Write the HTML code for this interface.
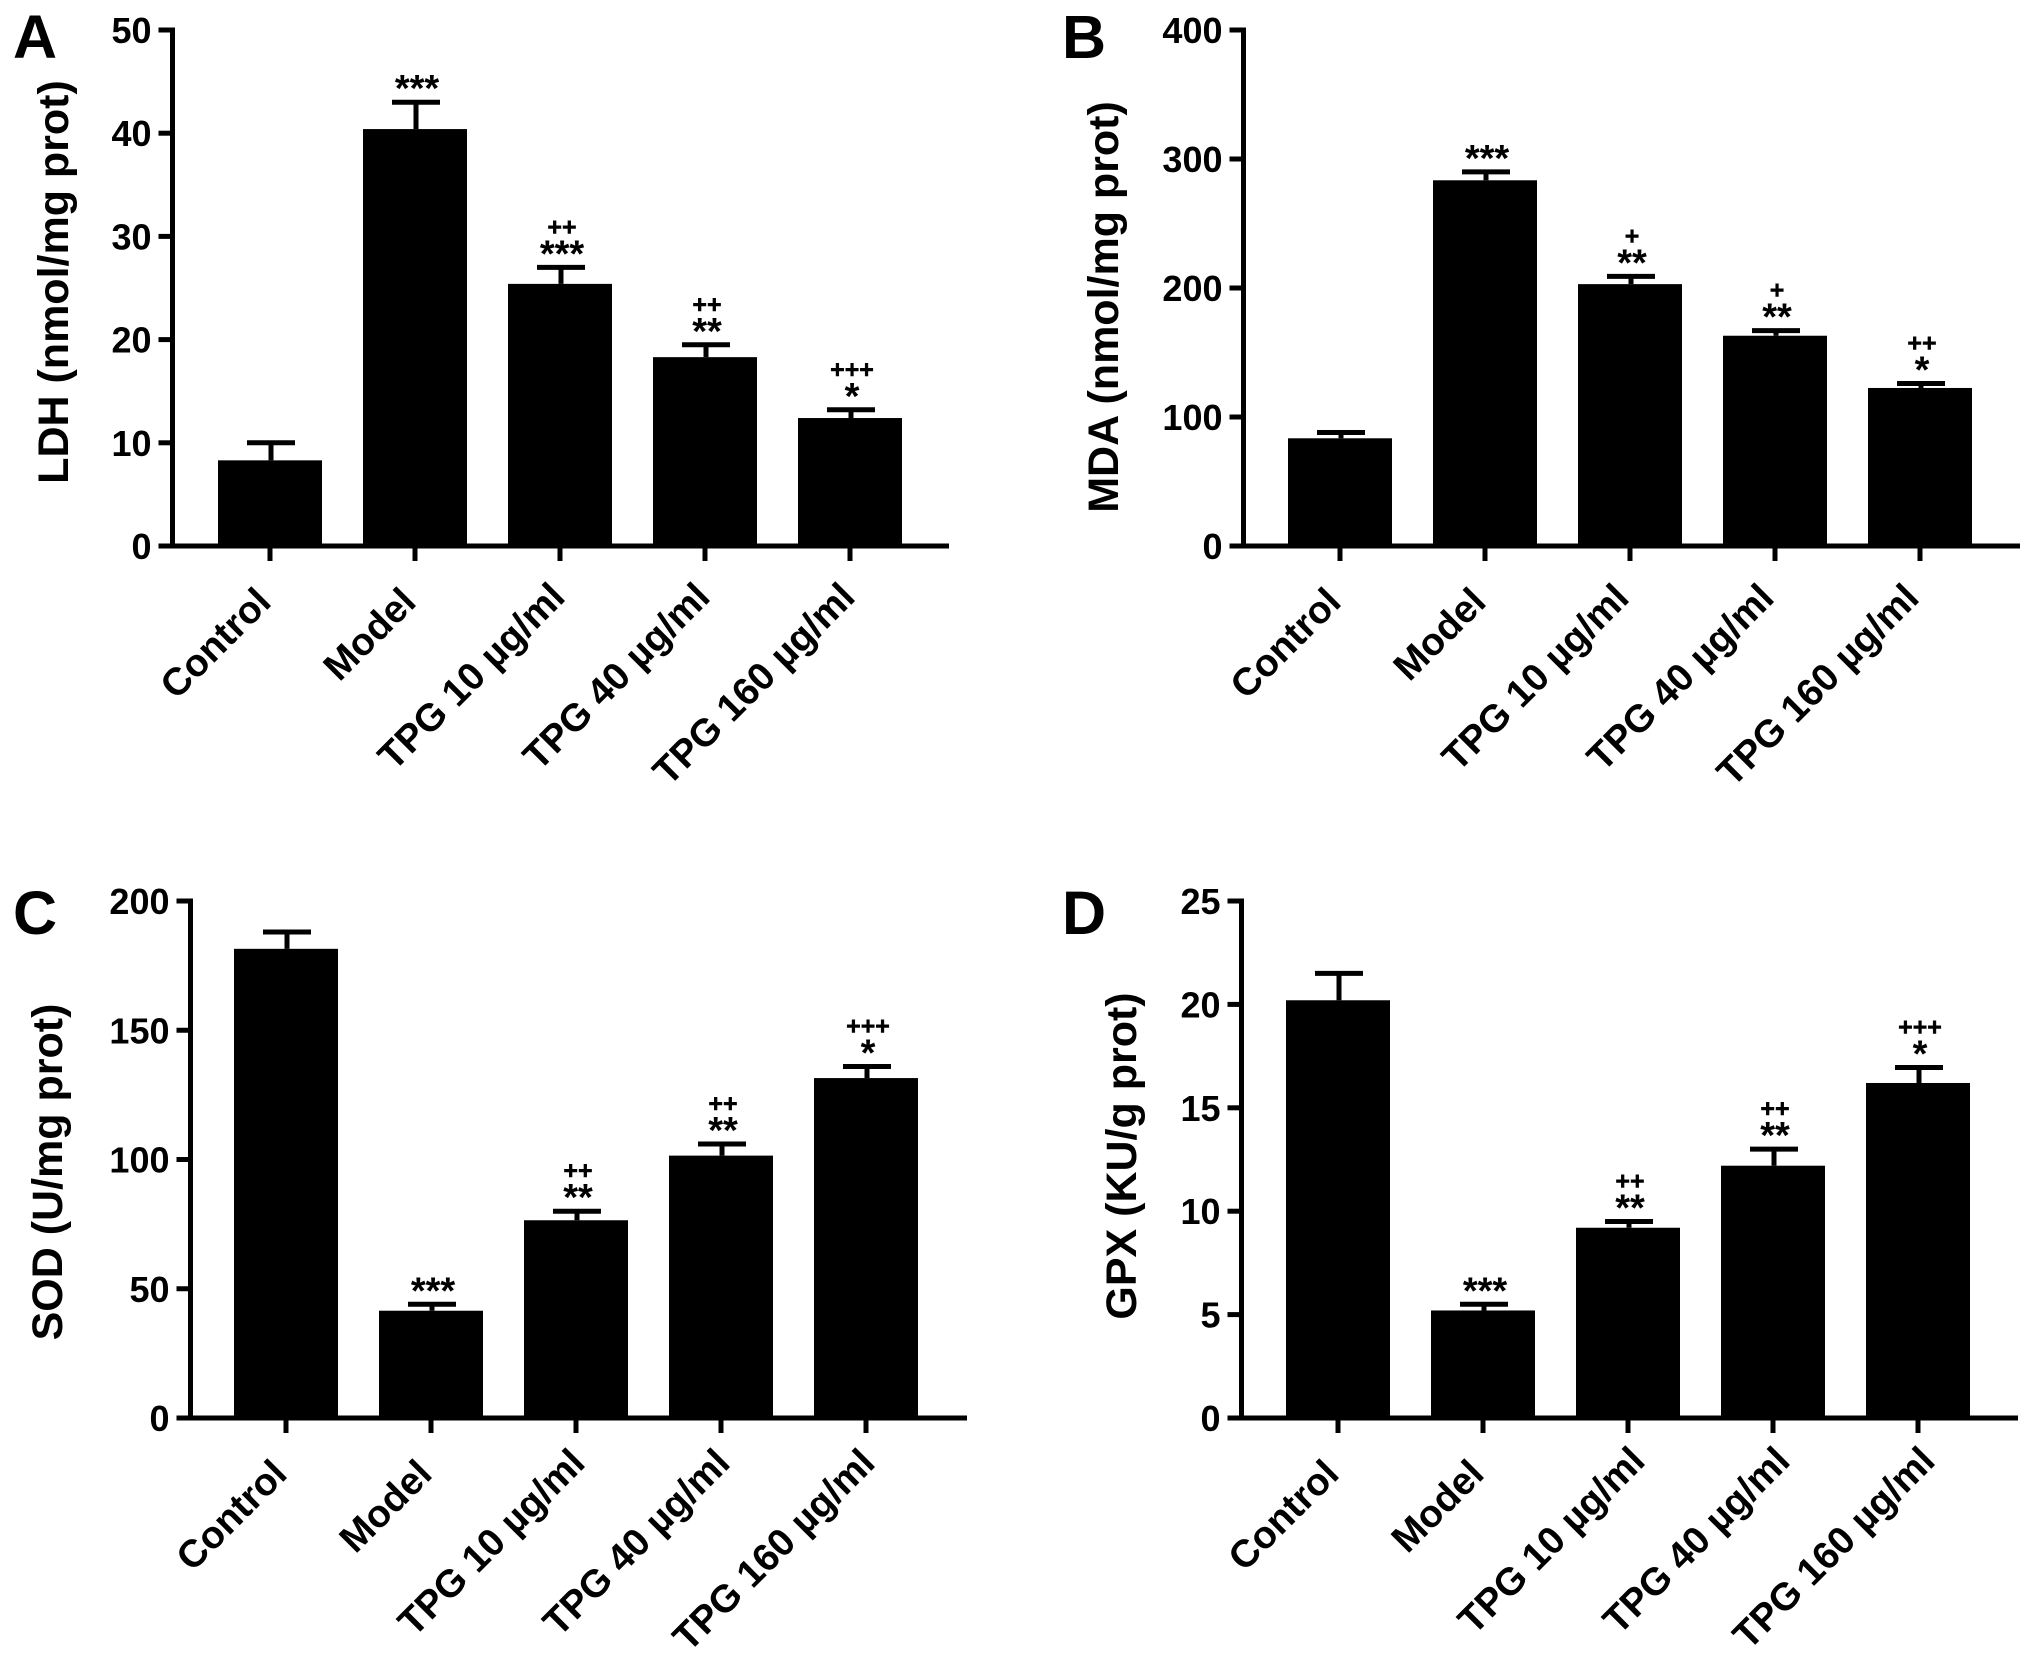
<!DOCTYPE html>
<html>
<head>
<meta charset="utf-8">
<title>TPG biochemical markers</title>
<style>
html,body{margin:0;padding:0;background:#fff;}
svg{display:block;}
text{font-family:"Liberation Sans",Arial,sans-serif;font-weight:bold;fill:#000;}
</style>
</head>
<body>
<svg id="figure" xmlns="http://www.w3.org/2000/svg" width="2031" height="1664" viewBox="0 0 2031 1664"></svg>
<script>
var categories = ['Control', 'Model', 'TPG 10 µg/ml', 'TPG 40 µg/ml', 'TPG 160 µg/ml'];

var ldhMeans = [8.3, 40.4, 25.4, 18.3, 12.4];
var ldhErrors = [1.7, 2.6, 1.6, 1.2, 0.8];
var ldhTicks = [0, 10, 20, 30, 40, 50];
var ldhStars = ['', '***', '***', '**', '*'];
var ldhPlus = ['', '', '++', '++', '+++'];

var mdaMeans = [83.5, 283.5, 203, 163, 122.5];
var mdaErrors = [4.5, 6.5, 6, 4, 3.5];
var mdaTicks = [0, 100, 200, 300, 400];
var mdaStars = ['', '***', '**', '**', '*'];
var mdaPlus = ['', '', '+', '+', '++'];

var sodMeans = [181.5, 41.5, 76.5, 101.5, 131.5];
var sodErrors = [6.5, 2.5, 3.5, 4.5, 4.5];
var sodTicks = [0, 50, 100, 150, 200];
var sodStars = ['', '***', '**', '**', '*'];
var sodPlus = ['', '', '++', '++', '+++'];

var gpxMeans = [20.2, 5.2, 9.2, 12.2, 16.2];
var gpxErrors = [1.3, 0.3, 0.3, 0.8, 0.75];
var gpxTicks = [0, 5, 10, 15, 20, 25];
var gpxStars = ['', '***', '**', '**', '*'];
var gpxPlus = ['', '', '++', '++', '+++'];

var svg = document.getElementById('figure');
var NS = 'http://www.w3.org/2000/svg';

function mk(tag, attrs, parent, content) {
  var el = document.createElementNS(NS, tag);
  for (var k in attrs) { el.setAttribute(k, attrs[k]); }
  if (content !== undefined) { el.textContent = content; }
  parent.appendChild(el);
  return el;
}

function drawPanel(p) {
  var group = mk('g', {}, svg);
  
  

  var yMax = p.ticks[p.ticks.length - 1];
  function yScale(v) { return p.base - (v / yMax) * (p.base - p.top); }
  function xScale(i) { return p.first + i * p.step; }

  var letter = mk('text', {x: p.letterX, y: p.letterY, 'font-size': 61}, group, p.letter);
  
  

  var title = mk('text', {
    transform: 'translate(' + p.titleX + ',' + p.titleY + ') rotate(-90)',
    'text-anchor': 'middle', 'font-size': 43
  }, group, p.title);
  
  

  p.means.forEach(function (m, i) {
    var cx = xScale(i);
    var topV = m + p.errors[i];
    var bar = mk('rect', {
      x: cx - 52, y: yScale(m), width: 104, height: p.base - yScale(m), fill: '#000'
    }, group);
    
    

    var stem = mk('line', {
      x1: cx + 1, x2: cx + 1, y1: yScale(m), y2: yScale(topV), stroke: '#000', 'stroke-width': 5
    }, group);
    
    

    var cap = mk('line', {
      x1: cx - 23, x2: cx + 25, y1: yScale(topV), y2: yScale(topV), stroke: '#000', 'stroke-width': 5
    }, group);
    
    

    if (p.stars[i]) {
      var star = mk('text', {
        x: cx + 2, y: yScale(topV) - 1, 'text-anchor': 'middle', 'font-size': 38, fill: '#222'
      }, group, p.stars[i]);
      
      
    }
    if (p.plus[i]) {
      var plus = mk('text', {
        x: cx + 2, y: yScale(topV) - 32, 'text-anchor': 'middle', 'font-size': 25,
        'font-weight': 'normal', stroke: '#000', 'stroke-width': 0.5
      }, group, p.plus[i]);
      
      
    }

    var tick = mk('line', {
      x1: cx, x2: cx, y1: p.base, y2: p.base + 15, stroke: '#000', 'stroke-width': 5
    }, group);
    
    

    var isDose = categories[i].indexOf('TPG') === 0;
    var lx = cx + (isDose ? p.doseDx : 3);
    var ly = p.base + (isDose ? p.doseDy : 58);
    var lbl = mk('text', {
      transform: 'translate(' + lx + ',' + ly + ') rotate(-45)',
      'text-anchor': 'end', 'font-size': 38.5
    }, group, categories[i]);
    
    
  });

  var yAxis = mk('line', {
    x1: p.axisX, x2: p.axisX, y1: p.top - 2.5, y2: p.base + 2.5, stroke: '#000', 'stroke-width': 5
  }, group);
  
  

  var xAxis = mk('line', {
    x1: p.axisX - 14, x2: p.xEnd, y1: p.base, y2: p.base, stroke: '#000', 'stroke-width': 5
  }, group);
  
  

  p.ticks.forEach(function (t) {
    var ty = yScale(t);
    var mark = mk('line', {
      x1: p.axisX - 14, x2: p.axisX, y1: ty, y2: ty, stroke: '#000', 'stroke-width': 5
    }, group);
    
    

    var num = mk('text', {
      x: p.axisX - 21, y: ty + 13, 'text-anchor': 'end', 'font-size': 36
    }, group, String(t));
    
    
  });
}

drawPanel({
  key: 'a', letter: 'A', title: 'LDH (nmol/mg prot)', means: ldhMeans, errors: ldhErrors, ticks: ldhTicks,
  stars: ldhStars, plus: ldhPlus, axisX: 172.5, xEnd: 949, top: 30, base: 546, first: 270, step: 145,
  letterX: 13, letterY: 58, titleX: 68, titleY: 282, doseDx: 7, doseDy: 53
});
drawPanel({
  key: 'b', letter: 'B', title: 'MDA (nmol/mg prot)', means: mdaMeans, errors: mdaErrors, ticks: mdaTicks,
  stars: mdaStars, plus: mdaPlus, axisX: 1243.5, xEnd: 2020, top: 30, base: 546, first: 1340, step: 145,
  letterX: 1062, letterY: 58, titleX: 1118, titleY: 307, doseDx: 1, doseDy: 54
});
drawPanel({
  key: 'c', letter: 'C', title: 'SOD (U/mg prot)', means: sodMeans, errors: sodErrors, ticks: sodTicks,
  stars: sodStars, plus: sodPlus, axisX: 190.5, xEnd: 967, top: 901, base: 1418, first: 286, step: 145,
  letterX: 13, letterY: 934, titleX: 62, titleY: 1172, doseDx: 11, doseDy: 47
});
drawPanel({
  key: 'd', letter: 'D', title: 'GPX (KU/g prot)', means: gpxMeans, errors: gpxErrors, ticks: gpxTicks,
  stars: gpxStars, plus: gpxPlus, axisX: 1241.5, xEnd: 2018, top: 901, base: 1418, first: 1338, step: 145,
  letterX: 1062, letterY: 934, titleX: 1136, titleY: 1156, doseDx: 19, doseDy: 45
});
</script>
</body>
</html>
